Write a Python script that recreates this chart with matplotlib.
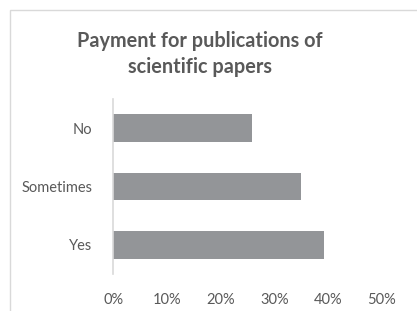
import matplotlib.pyplot as plt
from matplotlib.patches import Rectangle

categories = ['Yes', 'Sometimes', 'No']
values = [39.3, 35.0, 25.8]
xticks = [0, 10, 20, 30, 40, 50]
xtick_labels = ['0%', '10%', '20%', '30%', '40%', '50%']

plt.rcParams['font.family'] = ['Lato', 'DejaVu Sans']
text_color = '#595959'

fig = plt.figure(figsize=(4.17, 3.11), dpi=100)
# chart area border (cropped on right/bottom)
fig.patches.append(Rectangle((10 / 417, -0.1), 1.2, 1 - 10 / 311 + 0.1,
                             transform=fig.transFigure, fill=False,
                             edgecolor='#d9d9d9', linewidth=1))

ax = fig.add_axes([113.5 / 417, 1 - 274 / 311, 268 / 417, 175 / 311])
ax.barh(range(len(categories)), values, height=0.47, color='#939598')
ax.set_xlim(0, 50)
ax.set_ylim(-0.5, 2.5)
ax.set_yticks(range(len(categories)))
ax.set_yticklabels(categories, fontsize=10.5, color=text_color)
ax.set_xticks(xticks)
ax.set_xticklabels(xtick_labels, fontsize=10.5, color=text_color)
ax.tick_params(length=0)
ax.tick_params(axis='y', pad=15)
ax.tick_params(axis='x', pad=14)
for side in ['top', 'right', 'bottom']:
    ax.spines[side].set_visible(False)
ax.spines['left'].set_color('#d9d9d9')
ax.spines['left'].set_linewidth(1.2)

fig.text(200 / 417, 1 - 54 / 311, 'Payment for publications of\nscientific papers',
         ha='center', va='center', fontsize=14.3, fontweight='bold',
         color=text_color, linespacing=1.4)

fig.savefig('out.png', dpi=100)
